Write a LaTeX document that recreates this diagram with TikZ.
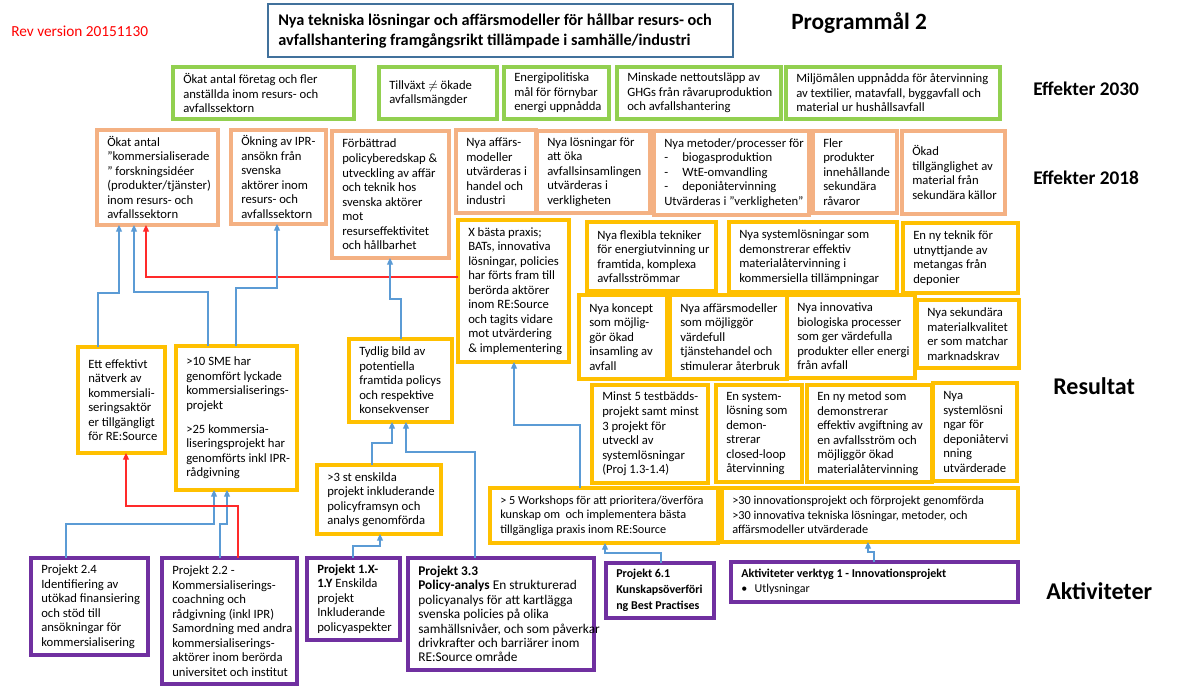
\documentclass[tikz,border=0pt]{standalone}
\usepackage{fontspec}
\setmainfont{Carlito}
\usetikzlibrary{arrows.meta}
\definecolor{cgreen}{HTML}{92D050}
\definecolor{corange}{HTML}{F4B183}
\definecolor{cyellow}{HTML}{FFC000}
\definecolor{cpurple}{HTML}{7030A0}
\definecolor{cblue}{HTML}{5B9BD5}
\definecolor{ctitle}{HTML}{41719C}
\definecolor{cred}{HTML}{FF2A2A}
\tikzset{
  frame/.style={rectangle, line width=2.5pt, inner sep=0pt, outer sep=0pt, fill=white},
  grn/.style={frame, draw=cgreen},
  org/.style={frame, draw=corange},
  yel/.style={frame, draw=cyellow},
  pur/.style={frame, draw=cpurple},
  ttl/.style={frame, draw=ctitle, line width=1.1pt},
  txt/.style={align=left, inner sep=0pt, anchor=west, font=\fontsize{9.5}{10.9}\selectfont},
  lbl/.style={inner sep=0pt, anchor=west, font=\bfseries\fontsize{14.5}{16}\selectfont},
  conn/.style={draw=cblue, line width=0.9pt, -{Triangle[length=5pt,width=4.5pt]}},
  redc/.style={draw=cred, line width=0.9pt, -{Triangle[length=5pt,width=4.5pt]}}
}
\newcommand\lidash{\makebox[13.5pt][l]{-}}
\newcommand\bx[8][]{%
  \pgfmathsetmacro\bxw{(#6-#4)*0.75}%
  \pgfmathsetmacro\bxh{(#7-#5)*0.75}%
  \node[#2, anchor=north west, minimum width=\bxw pt, minimum height=\bxh pt] (#3) at (#4,#5) {};
  \node[txt, #1] (#3-t) at ([xshift=7.5pt]#3.west) {#8};}
\begin{document}
\begin{tikzpicture}[x=0.75pt, y=-0.75pt]
\useasboundingbox (0,0) rectangle (1199,686);
\fill[white] (0,0) rectangle (1199,686);

% header
\node[inner sep=0pt, anchor=west, text=red, font=\fontsize{11.5}{13}\selectfont] (rev) at (11,31) {Rev version 20151130};
\bx[font=\bfseries\fontsize{12.2}{15}\selectfont]{ttl}{title}{268}{4}{733}{57}{Nya tekniska lösningar och affärsmodeller för hållbar resurs- och\\avfallshantering framgångsrikt tillämpade i samhälle/industri}
\node[lbl, font=\bfseries\fontsize{17.5}{20}\selectfont] (pm) at (791,23) {Programmål 2};

% row labels
\node[lbl] (l2030) at (1033,89) {Effekter 2030};
\node[lbl] (l2018) at (1033,178) {Effekter 2018};
\node[lbl, font=\bfseries\fontsize{18}{20}\selectfont] (lres) at (1053,386) {Resultat};
\node[lbl, font=\bfseries\fontsize{18}{20}\selectfont] (lakt) at (1046,591) {Aktiviteter};

% Effekter 2030
\bx{grn}{g1}{173}{67}{354}{119}{Ökat antal företag och fler\\anställda inom resurs- och\\avfallssektorn}
\bx{grn}{g2}{379}{67}{497}{119}{Tillväxt $\neq$ ökade\\avfallsmängder}
\bx{grn}{g3}{504}{67}{609}{119}{Energipolitiska\\mål för förnybar\\energi uppnådda}
\bx{grn}{g4}{617}{67}{781}{119}{Minskade nettoutsläpp av\\GHGs från råvaruproduktion\\och avfallshantering}
\bx{grn}{g5}{786}{67}{1000}{119}{Miljömålen uppnådda för återvinning\\av textilier, matavfall, byggavfall och\\material ur hushållsavfall}

% Effekter 2018
\bx{org}{e1}{97}{130}{218}{225}{Ökat antal\\”kommersialiserade\\” forskningsidéer\\(produkter/tjänster)\\inom resurs- och\\avfallssektorn}
\bx{org}{e2}{231}{130}{326}{224}{Ökning av IPR-\\ansökn från\\svenska\\aktörer inom\\resurs- och\\avfallssektorn}
\bx{org}{e3}{332}{131}{449}{258}{Förbättrad\\policyberedskap \&\\utveckling av affär\\och teknik hos\\svenska aktörer\\mot\\resurseffektivitet\\och hållbarhet}
\bx{org}{e4}{456}{130}{536}{213}{Nya affärs-\\modeller\\utvärderas i\\handel och\\industri}
\bx{org}{e5}{537}{131}{650}{213}{Nya lösningar för\\att öka\\avfallsinsamlingen\\utvärderas i\\verkligheten}
\bx{org}{e6}{654}{131}{809}{215}{Nya metoder/processer för\\\lidash biogasproduktion\\\lidash WtE-omvandling\\\lidash deponiåtervinning\\Utvärderas i ”verkligheten”}
\bx{org}{e7}{813}{131}{897}{213}{Fler\\produkter\\innehållande\\sekundära\\råvaror}
\bx{org}{e8}{902}{131}{1005}{214}{Ökad\\tillgänglighet av\\material från\\sekundära källor}

% Resultat
\bx{yel}{xb}{458}{220}{569}{362}{X bästa praxis;\\BATs, innovativa\\lösningar, policies\\har förts fram till\\berörda aktörer\\inom RE:Source\\och tagits vidare\\mot utvärdering\\\& implementering}
\bx{yel}{r1}{587}{222}{716}{291}{Nya flexibla tekniker\\för energiutvinning ur\\framtida, komplexa\\avfallsströmmar}
\bx{yel}{r2}{729}{222}{897}{292}{Nya systemlösningar som\\demonstrerar effektiv\\materialåtervinning i\\kommersiella tillämpningar}
\bx{yel}{r3}{903}{223}{1018}{293}{En ny teknik för\\utnyttjande av\\metangas från\\deponier}
\bx{yel}{r4}{579}{295}{667}{379}{Nya koncept\\som möjlig-\\gör ökad\\insamling av\\avfall}
\bx{yel}{r5}{670}{295}{787}{379}{Nya affärsmodeller\\som möjliggör\\värdefull\\tjänstehandel och\\stimulerar återbruk}
\bx{yel}{r6}{787}{295}{915}{378}{Nya innovativa\\biologiska processer\\som ger värdefulla\\produkter eller energi\\från avfall}
\bx{yel}{r7}{917}{300}{1019}{368}{Nya sekundära\\materialkvalitet\\er som matchar\\marknadskrav}
\bx{yel}{r8}{592}{385}{708}{483}{Minst 5 testbädds-\\projekt samt minst\\3 projekt för\\utveckl av\\systemlösningar\\(Proj 1.3-1.4)}
\bx{yel}{r9}{716}{385}{802}{482}{En system-\\lösning som\\demon-\\strerar\\closed-loop\\återvinning}
\bx{yel}{r10}{807}{385}{932}{482}{En ny metod som\\demonstrerar\\effektiv avgiftning av\\en avfallsström och\\möjliggör ökad\\materialåtervinning}
\bx{yel}{r11}{933}{383}{1017}{481}{Nya\\systemlösni\\ngar för\\deponiåtervi\\nning\\utvärderade}
\bx[font=\fontsize{9.2}{10.9}\selectfont]{yel}{r12}{722}{488}{1018}{542}{>30 innovationsprojekt och förprojekt genomförda\\>30 innovativa tekniska lösningar, metoder, och\\affärsmodeller utvärderade}
\bx[font=\fontsize{9.2}{10.9}\selectfont]{yel}{ws}{490}{488}{718}{543}{> 5 Workshops för att prioritera/överföra\\kunskap om\ \ och implementera bästa\\tillgängliga praxis inom RE:Source}
\bx{yel}{gt3}{317}{465}{441}{534}{>3 st enskilda\\projekt inkluderande\\policyframsyn och\\analys genomförda}
\bx{yel}{ett}{78}{347}{165}{453}{Ett effektivt\\nätverk av\\kommersiali-\\seringsaktör\\er tillgängligt\\för RE:Source}
\bx{yel}{sme}{176}{346}{297}{490}{>10 SME har\\genomfört lyckade\\kommersialiserings-\\projekt\\[7pt]>25 kommersia-\\liseringsprojekt har\\genomförts inkl IPR-\\rådgivning}
\bx{yel}{tyd}{349}{339}{452}{422}{Tydlig bild av\\potentiella\\framtida policys\\och respektive\\konsekvenser}

% Aktiviteter
\bx{pur}{p24}{31}{558}{148}{655}{Projekt 2.4\\Identifiering av\\utökad finansiering\\och stöd till\\ansökningar för\\kommersialisering}
\bx{pur}{p22}{162}{558}{297}{684}{Projekt 2.2 -\\Kommersialiserings-\\coachning och\\rådgivning (inkl IPR)\\Samordning med andra\\kommersialiserings-\\aktörer inom berörda\\universitet och institut}
\bx{pur}{p1x}{307}{558}{400}{640}{\textbf{Projekt 1.X-}\\\textbf{1.Y} Enskilda\\projekt\\Inkluderande\\policyaspekter}
\bx[font=\fontsize{10}{10.8}\selectfont]{pur}{p33}{408}{558}{594}{670}{\textbf{Projekt 3.3}\\\textbf{Policy-analys} En strukturerad\\policyanalys för att kartlägga\\svenska policies på olika\\samhällsnivåer, och som påverkar\\drivkrafter och barriärer inom\\RE:Source område}
\bx[font=\bfseries\fontsize{9}{12}\selectfont]{pur}{p61}{606}{563}{714}{618}{Projekt 6.1\\Kunskapsöverföri\\ng Best Practises}
\bx[font=\fontsize{9}{11.5}\selectfont]{pur}{akt}{731}{562}{1018}{602}{\textbf{Aktiviteter verktyg 1 - Innovationsprojekt}\\\makebox[10pt][l]{•}Utlysningar}

% connectors
\draw[conn] (ett.north -| 98,0) |- (119,293) -- (e1.south -| 119,0);
\draw[conn] (sme.north -| 208,0) |- (134,292) -- (e1.south -| 134,0);
\draw[redc] (xb.west |- 0,277) -| (e1.south -| 146,0);
\draw[conn] (sme.north -| 236,0) |- (277,288) -- (e2.south -| 277,0);
\draw[conn] (tyd.north -| 401,0) |- (390,299) -- (e3.south -| 390,0);
\draw[conn] (ws.north -| 580,0) |- (514,425) -- (xb.south -| 514,0);
\draw[conn] (gt3.north -| 372,0) |- (392,443) -- (tyd.south -| 392,0);
\draw[conn] (p33.north -| 475,0) |- (406,452) -- (tyd.south -| 406,0);
\draw[conn] (p1x.north -| 353,0) |- (380,546) -- (gt3.south -| 380,0);
\draw[conn] (p24.north -| 66,0) |- (214,524) -- (sme.south -| 214,0);
\draw[conn] (p22.north -| 220,0) |- (227,524) -- (sme.south -| 227,0);
\draw[redc] (p22.north -| 238,0) |- (126,506) -- (ett.south -| 126,0);
\draw[conn] (p61.north -| 661,0) |- (605,553) -- (ws.south -| 605,0);
\draw[conn] (akt.north -| 874,0) |- (868,552) -- (r12.south -| 868,0);
\end{tikzpicture}
\end{document}
